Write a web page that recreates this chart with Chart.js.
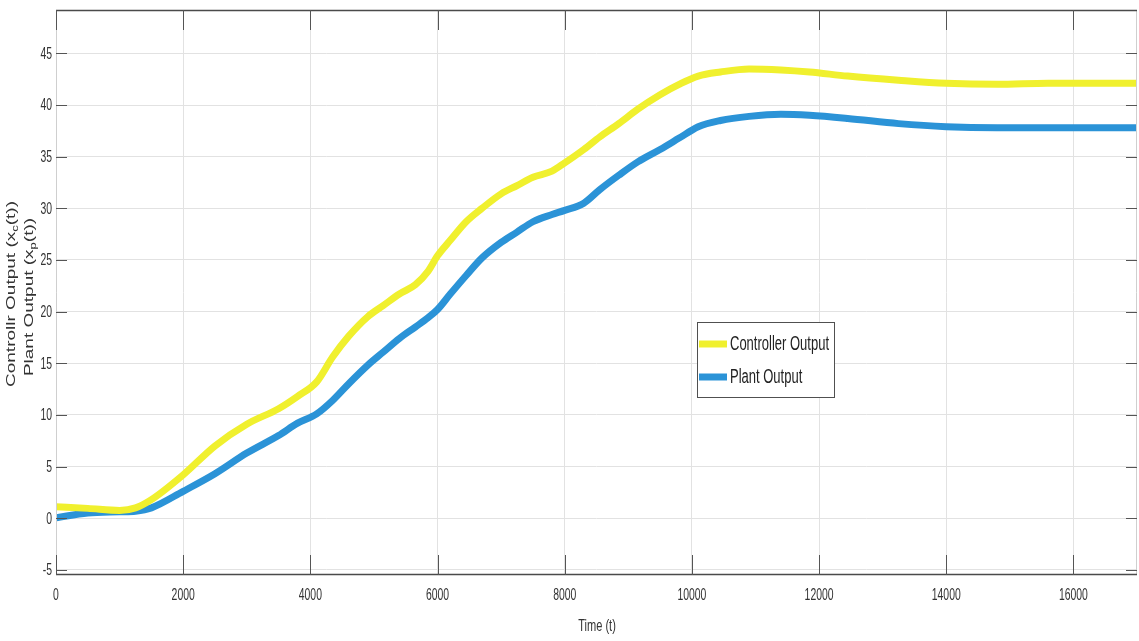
<!DOCTYPE html>
<html>
<head>
<meta charset="utf-8">
<script src="https://cdn.jsdelivr.net/npm/chart.js@4/dist/chart.umd.min.js"></script>
<style>
  html, body { margin: 0; padding: 0; background: #fff; }
  #wrap { width: 1139px; height: 641px; }
</style>
</head>
<body>
<div id="wrap"><canvas id="chart"></canvas></div>
<script>
// time samples (t) and the two outputs
const timeT = [0, 500, 1000, 1250, 1500, 2000, 2500, 3000, 3500, 3800, 4100, 4350, 4600, 4900,
  5150, 5400, 5650, 5850, 6000, 6200, 6450, 6700, 7000, 7250, 7500, 7800, 8000, 8300, 8550,
  8850, 9150, 9500, 9800, 10100, 10450, 10900, 11400, 11850, 12450, 13250, 14000, 14800, 15600, 17000];
const controllerOut = [1.1, 0.95, 0.75, 1.0, 1.8, 4.2, 7.0, 9.1, 10.6, 11.8, 13.2, 15.6, 17.6, 19.5,
  20.6, 21.7, 22.6, 23.9, 25.4, 26.9, 28.7, 30.0, 31.4, 32.2, 33.0, 33.6, 34.4, 35.7, 36.9,
  38.2, 39.6, 41.0, 42.0, 42.8, 43.2, 43.5, 43.4, 43.2, 42.8, 42.4, 42.1, 42.0, 42.1, 42.1];
const plantOut = [0.05, 0.5, 0.62, 0.68, 1.0, 2.6, 4.3, 6.3, 8.0, 9.2, 10.1, 11.4, 13.0, 14.8,
  16.1, 17.4, 18.5, 19.4, 20.2, 21.7, 23.5, 25.2, 26.7, 27.7, 28.7, 29.4, 29.8, 30.5, 31.8,
  33.2, 34.5, 35.7, 36.8, 37.9, 38.5, 38.9, 39.1, 39.0, 38.7, 38.2, 37.9, 37.8, 37.8, 37.8];

const xTicks = [0, 2000, 4000, 6000, 8000, 10000, 12000, 14000, 16000];
const yTicks = [-5, 0, 5, 10, 15, 20, 25, 30, 35, 40, 45];
const seriesNames = ['Controller Output', 'Plant Output'];
const seriesColors = ['#f0f02e', '#2b93d7'];

const FONT = "'Liberation Sans', Arial, sans-serif";
const SQUASH = 0.65; // the source image is narrow horizontally

function squashText(ctx, text, x, y, align) {
  ctx.save();
  ctx.translate(x, y);
  ctx.scale(SQUASH, 1);
  ctx.textAlign = align;
  ctx.fillText(text, 0, 0);
  ctx.restore();
}

// rotated y label with a subscript
function drawYLabel(ctx, cx, cy, main, sub, tail, size) {
  ctx.save();
  ctx.translate(cx, cy);
  ctx.rotate(-Math.PI / 2);
  ctx.scale(1, SQUASH);
  ctx.textBaseline = 'middle';
  ctx.textAlign = 'left';
  ctx.font = size + 'px ' + FONT;
  const w1 = ctx.measureText(main).width;
  const w3 = ctx.measureText(tail).width;
  ctx.font = Math.round(size * 0.7) + 'px ' + FONT;
  const w2 = ctx.measureText(sub).width;
  let x = -(w1 + w2 + w3) / 2;
  ctx.font = size + 'px ' + FONT;
  ctx.fillText(main, x, 0);
  x += w1;
  ctx.font = Math.round(size * 0.7) + 'px ' + FONT;
  ctx.fillText(sub, x, size * 0.3);
  x += w2;
  ctx.font = size + 'px ' + FONT;
  ctx.fillText(tail, x, 0);
  ctx.restore();
}

const axesPlugin = {
  id: 'matlabAxes',
  afterDatasetsDraw(chart) {
    const { ctx, chartArea: a, scales: { x, y } } = chart;
    ctx.save();
    // box
    ctx.lineWidth = 1;
    ctx.strokeStyle = '#cfcfcf';
    ctx.beginPath();
    ctx.moveTo(a.left + 0.5, a.top); ctx.lineTo(a.left + 0.5, a.bottom);
    ctx.moveTo(a.right - 0.5, a.top); ctx.lineTo(a.right - 0.5, a.bottom);
    ctx.stroke();
    ctx.strokeStyle = '#4a4a4a';
    ctx.lineWidth = 1.5;
    ctx.beginPath();
    ctx.moveTo(a.left, a.top + 0.5); ctx.lineTo(a.right, a.top + 0.5);
    ctx.moveTo(a.left, a.bottom - 0.5); ctx.lineTo(a.right, a.bottom - 0.5);
    ctx.stroke();

    // inward ticks
    ctx.strokeStyle = '#555';
    ctx.lineWidth = 1;
    ctx.beginPath();
    xTicks.forEach(v => {
      const px = Math.round(x.getPixelForValue(v)) + 0.5;
      ctx.moveTo(px, a.bottom); ctx.lineTo(px, a.bottom - 20);
      ctx.moveTo(px, a.top); ctx.lineTo(px, a.top + 20);
    });
    yTicks.forEach(v => {
      const py = Math.round(y.getPixelForValue(v)) + 0.5;
      ctx.moveTo(a.left, py); ctx.lineTo(a.left + 11, py);
      ctx.moveTo(a.right, py); ctx.lineTo(a.right - 11, py);
    });
    ctx.stroke();

    // tick labels
    ctx.fillStyle = '#333';
    ctx.font = '16px ' + FONT;
    ctx.textBaseline = 'middle';
    xTicks.forEach(v => squashText(ctx, String(v), x.getPixelForValue(v), 596, 'center'));
    yTicks.forEach(v => squashText(ctx, String(v), a.left - 4, y.getPixelForValue(v) + 1, 'right'));

    // axis titles
    ctx.font = '17px ' + FONT;
    squashText(ctx, 'Time (t)', 597, 626, 'center');
    drawYLabel(ctx, 12, 294, 'Controllr Output (x', 'c', '(t))', 19);
    drawYLabel(ctx, 30, 297, 'Plant Output (x', 'p', '(t))', 19);
    ctx.restore();
  },
  afterDraw(chart) {
    const { ctx } = chart;
    const bx = 697, by = 322, bw = 137, bh = 75;
    ctx.save();
    ctx.fillStyle = '#fff';
    ctx.fillRect(bx, by, bw, bh);
    ctx.strokeStyle = '#505050';
    ctx.lineWidth = 1;
    ctx.strokeRect(bx + 0.5, by + 0.5, bw, bh);
    ctx.font = '20px ' + FONT;
    ctx.textBaseline = 'middle';
    chart.data.datasets.forEach((ds, i) => {
      const ly = by + 22 + i * 33;
      ctx.strokeStyle = ds.borderColor;
      ctx.lineWidth = 7;
      ctx.beginPath();
      ctx.moveTo(bx + 2, ly); ctx.lineTo(bx + 30, ly);
      ctx.stroke();
      ctx.fillStyle = '#222';
      squashText(ctx, ds.label, bx + 33, ly, 'left');
    });
    ctx.restore();
  }
};

function makeSeries(values) {
  return timeT.map((t, i) => ({ x: t, y: values[i] }));
}

new Chart(document.getElementById('chart'), {
  type: 'line',
  data: {
    datasets: [
      {
        label: seriesNames[0],
        data: makeSeries(controllerOut),
        borderColor: seriesColors[0],
        borderWidth: 7,
        pointRadius: 0,
        cubicInterpolationMode: 'monotone',
        clip: 0
      },
      {
        label: seriesNames[1],
        data: makeSeries(plantOut),
        borderColor: seriesColors[1],
        borderWidth: 7,
        pointRadius: 0,
        cubicInterpolationMode: 'monotone',
        clip: 0
      }
    ]
  },
  options: {
    responsive: true,
    maintainAspectRatio: false,
    animation: false,
    layout: { padding: { top: 10, right: 2, left: 0, bottom: 0 } },
    plugins: { legend: { display: false }, tooltip: { enabled: false } },
    scales: {
      x: {
        type: 'linear',
        min: 0,
        max: 17000,
        afterBuildTicks: s => { s.ticks = xTicks.map(v => ({ value: v })); },
        afterFit: s => { s.height = 66; },
        ticks: { display: false },
        grid: { color: '#e2e2e2', drawTicks: false },
        border: { display: false }
      },
      y: {
        type: 'linear',
        min: -5.5,
        max: 49.2,
        afterBuildTicks: s => { s.ticks = yTicks.map(v => ({ value: v })); },
        afterFit: s => { s.width = 56; },
        ticks: { display: false },
        grid: { color: '#e2e2e2', drawTicks: false },
        border: { display: false }
      }
    }
  },
  plugins: [axesPlugin]
});
</script>
</body>
</html>
